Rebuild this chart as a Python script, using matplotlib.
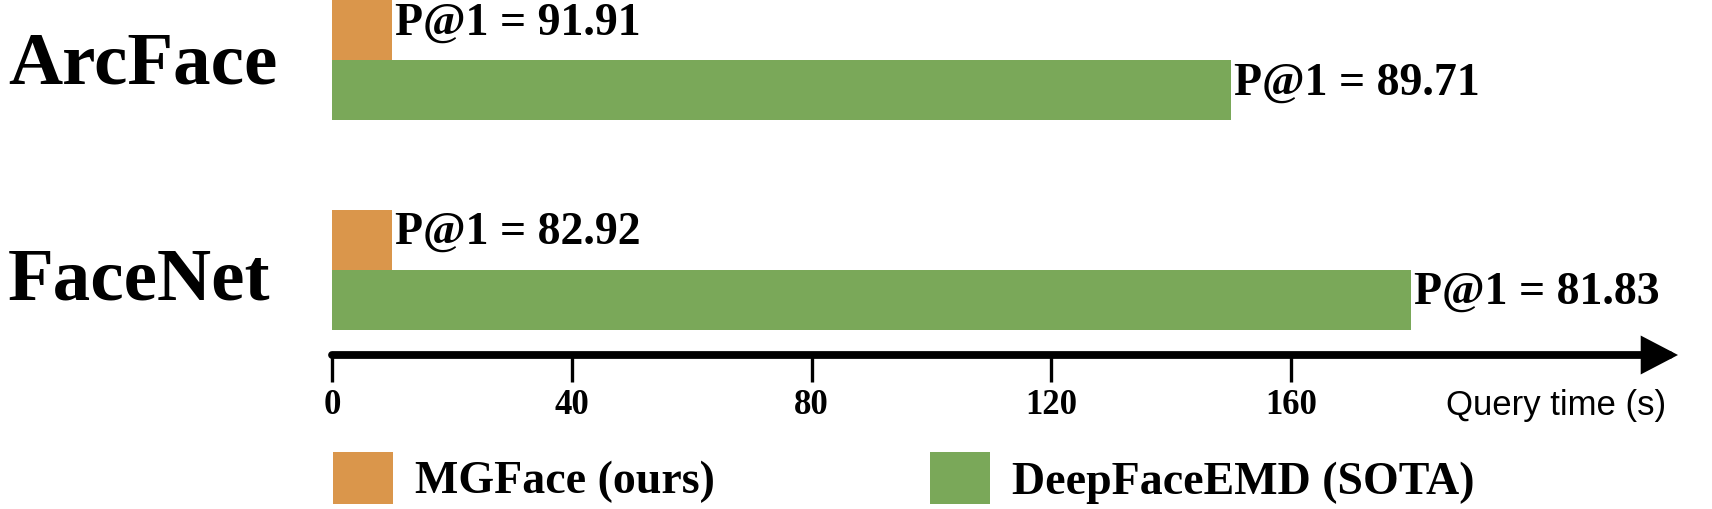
import matplotlib
matplotlib.use('Agg')
import matplotlib.pyplot as plt
import numpy as np

# ---------------- data ----------------
backbones = ['ArcFace', 'FaceNet']
methods = ['MGFace (ours)', 'DeepFaceEMD (SOTA)']
mgface_time = [10, 10]          # query time (s)
deepfaceemd_time = [150, 180]   # query time (s)
mgface_p1 = [91.91, 82.92]
deepfaceemd_p1 = [89.71, 81.83]
xticks = [0, 40, 80, 120, 160]
xlabel = 'Query time (s)'
colors = ['#DA964B', '#7AA859']

# ---------------- layout ----------------
W, H = 1712, 509
fig = plt.figure(figsize=(W / 100, H / 100), dpi=100)
x0px, x1px = 332.0, 1678.0
ytop, ybot = 0.0, 355.0
ppu = 5.994  # pixels per second
ax = fig.add_axes([x0px / W, 1 - ybot / H, (x1px - x0px) / W, (ybot - ytop) / H])
ax.set_xlim(0, (x1px - x0px) / ppu)
ax.set_ylim((ybot - 60) / 209.5 + 0.0, -60 / 209.5)

serif = 'Liberation Serif'
h = 60 / 209.5
y = np.arange(len(backbones))
b1 = ax.barh(y - h / 2, mgface_time, height=h, color=colors[0], label=methods[0])
b2 = ax.barh(y + h / 2, deepfaceemd_time, height=h, color=colors[1], label=methods[1])

for bars, vals in ((b1, mgface_p1), (b2, deepfaceemd_p1)):
    for rect, v in zip(bars, vals):
        ax.text(rect.get_width() + 0.5, rect.get_y() + rect.get_height() / 2 - 0.03,
                f'P@1 = {v:.2f}', ha='left', va='center', fontsize=33,
                fontweight='bold', family=serif)

# backbone names on the left (baseline offsets below group centre)
label_dy = [0.113, 0.144]
for i, name in enumerate(backbones):
    ax.text(-(x0px - 8) / (x1px - x0px), i + label_dy[i], name,
            transform=ax.get_yaxis_transform(),
            ha='left', va='baseline', fontsize=54, fontweight='bold', family=serif)

# axis styling
for s in ax.spines.values():
    s.set_visible(False)
ax.set_yticks([])
ax.set_xticks(xticks)
ax.set_xticklabels([str(t) for t in xticks], fontsize=25, fontweight='bold', family=serif)
ax.tick_params(axis='x', length=19.4, width=2.4, direction='out', pad=5, color='black')

# axis arrow
ax.annotate('', xy=(1, 0), xytext=(0, 0), xycoords='axes fraction', textcoords='axes fraction',
            arrowprops=dict(arrowstyle='-|>,head_length=0.9,head_width=0.47', mutation_scale=20,
                            lw=5.6, color='black', shrinkA=0, shrinkB=0, joinstyle='miter'),
            annotation_clip=False)

ax.set_xlabel(xlabel, loc='right', fontsize=25, family='Liberation Sans')
ax.xaxis.set_label_coords(1 - (x1px - 1666) / (x1px - x0px), -(389 - ybot) / (ybot - ytop))

# legend
fs_leg = 33
em = fs_leg * 100 / 72
fig.legend(handles=[b1, b2], labels=methods, loc='lower left',
           bbox_to_anchor=(333 / W, 5 / H), ncol=2, frameon=False,
           prop={'family': serif, 'weight': 'bold', 'size': fs_leg},
           handlelength=60 / em, handleheight=62 / em, handletextpad=22 / em,
           columnspacing=4.7, borderpad=0, borderaxespad=0)

fig.savefig('out.png', dpi=100)
